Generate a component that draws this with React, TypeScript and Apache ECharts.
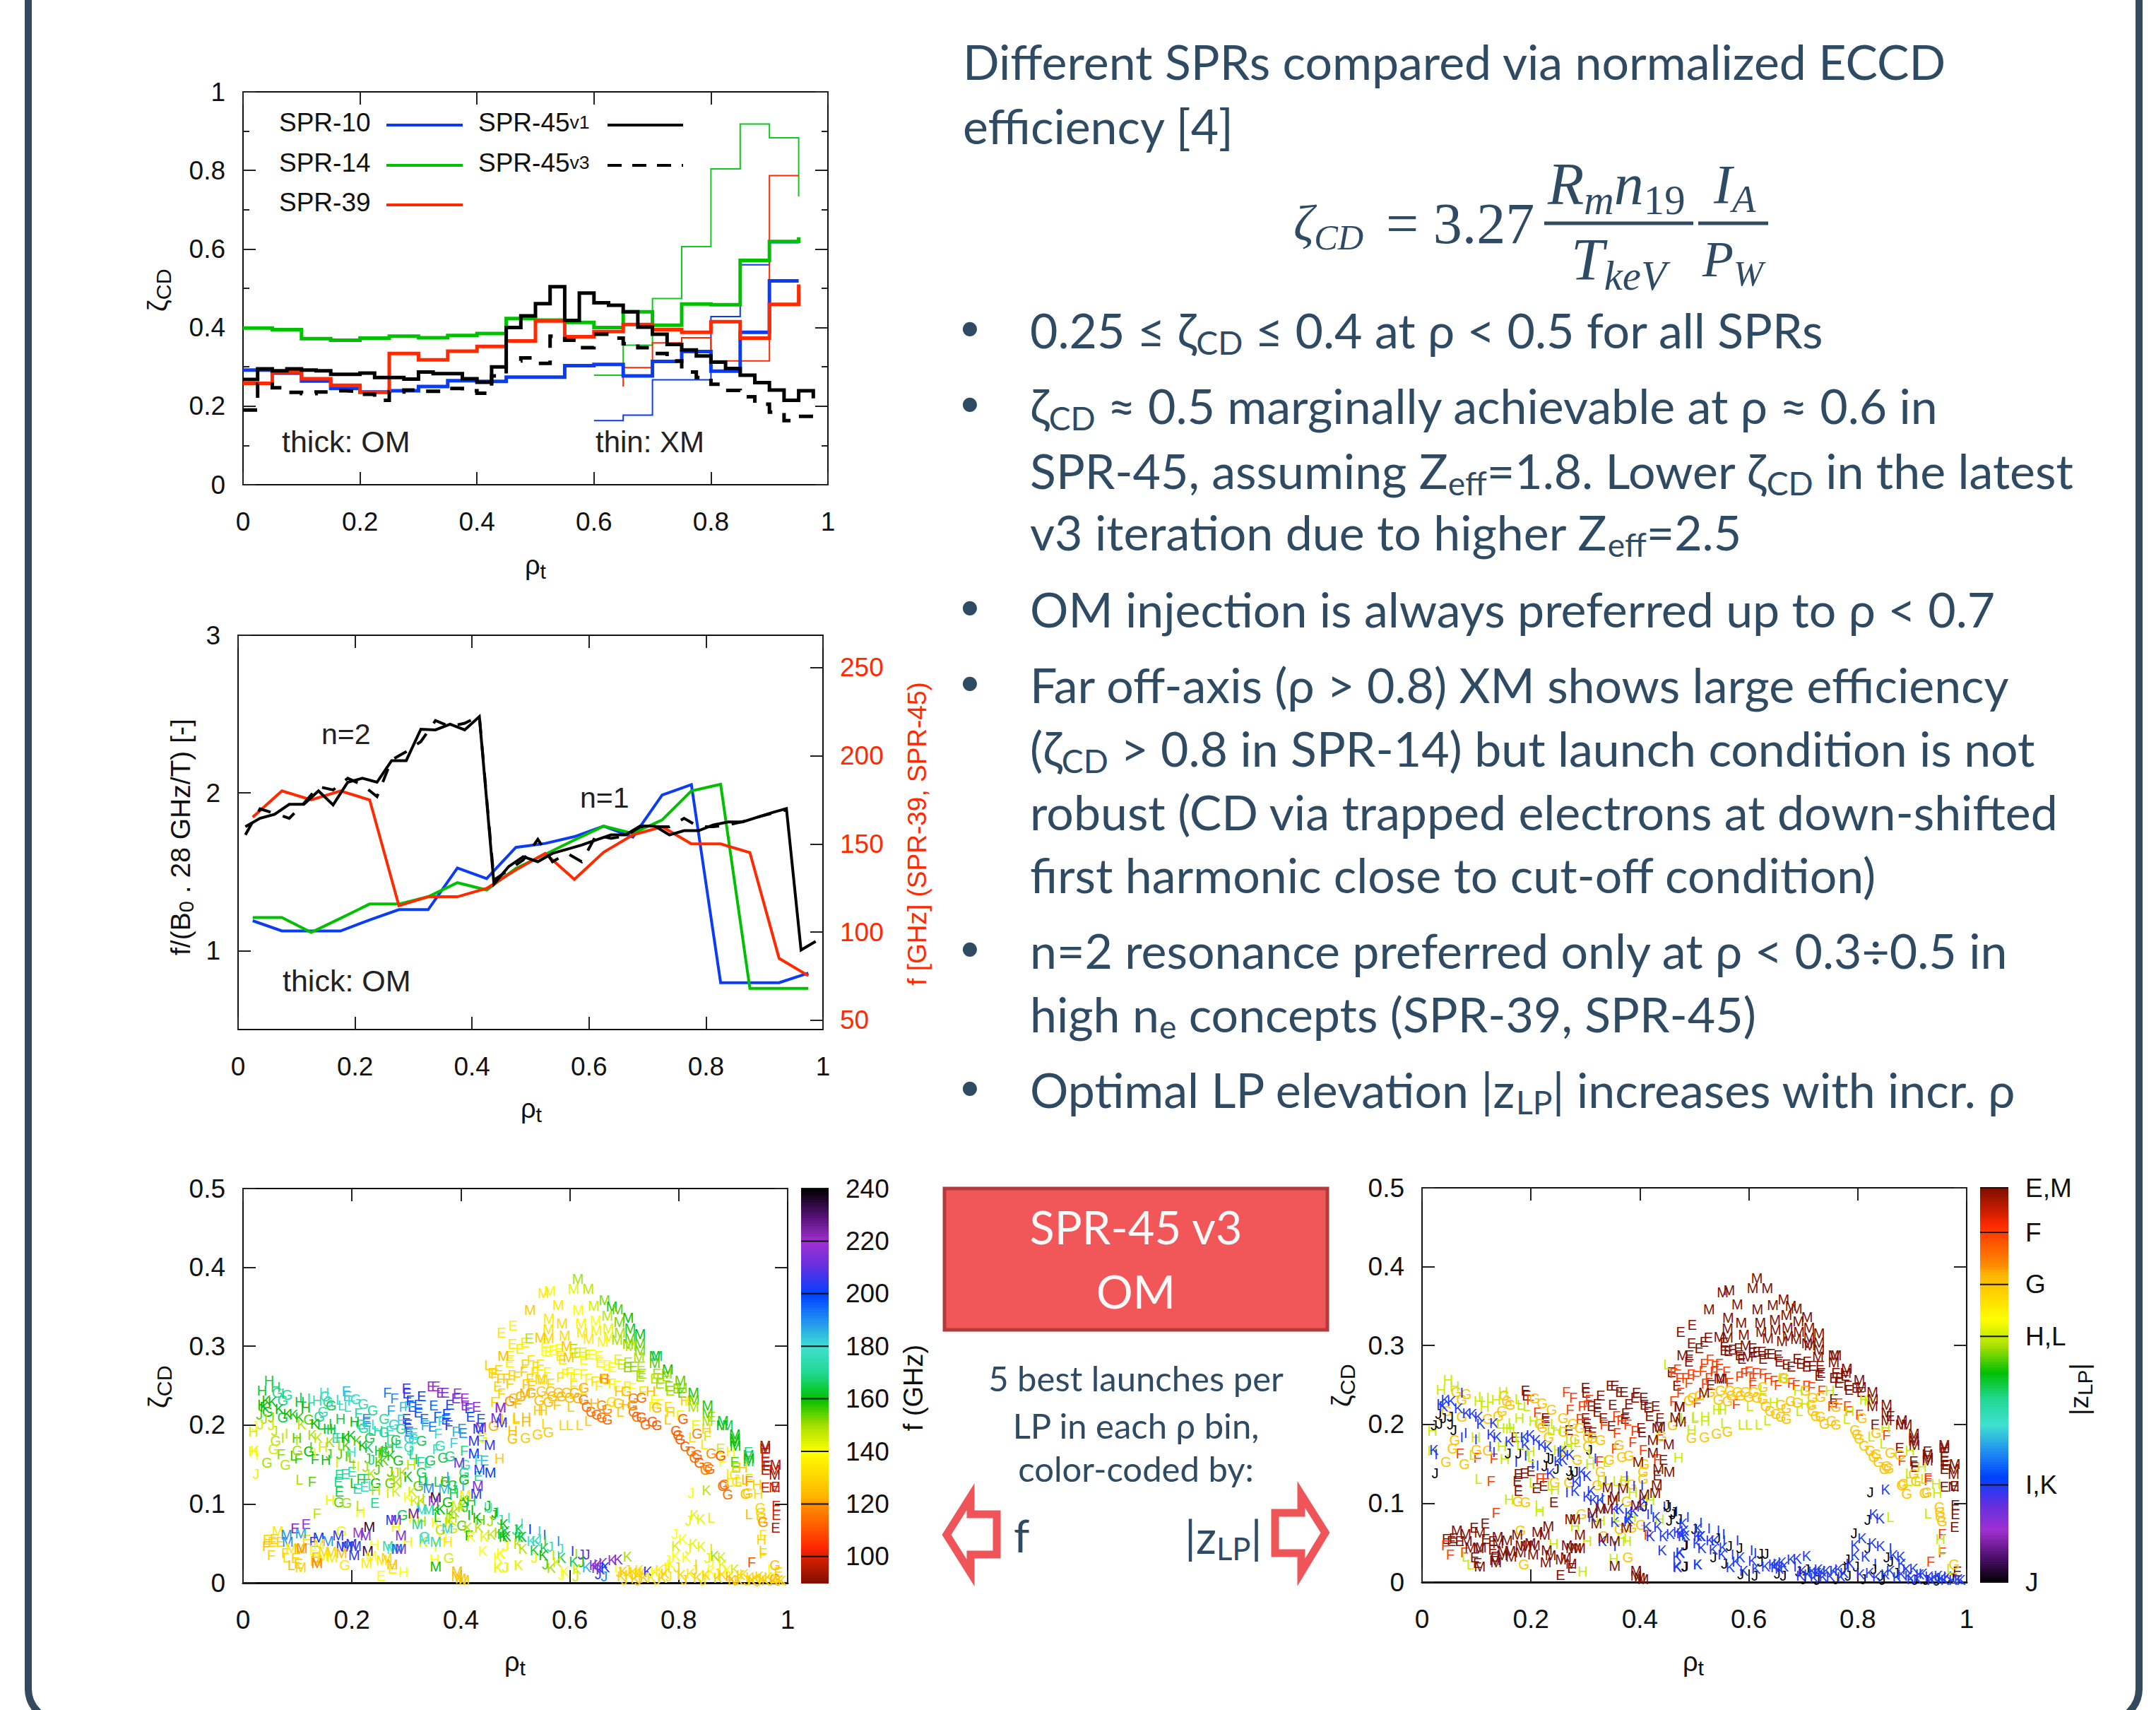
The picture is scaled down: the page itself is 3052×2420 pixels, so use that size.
import React, { useEffect, useRef } from "react";
import * as echarts from "echarts";

// ---------- panel 1: normalised efficiency, step lines ----------
const om10 = [0.292,0.284,0.264,0.245,0.236,0.239,0.25,0.265,0.263,0.274,0.274,0.303,0.306,0.277,0.314,0.339,0.289,0.388,0.519];
const om14 = [0.399,0.395,0.372,0.368,0.373,0.378,0.374,0.38,0.385,0.423,0.419,0.413,0.4,0.44,0.406,0.46,0.458,0.571,0.619];
const om39 = [0.258,0.287,0.27,0.253,0.235,0.334,0.318,0.34,0.352,0.366,0.417,0.377,0.39,0.408,0.395,0.388,0.415,0.373,0.459];
const om45v1 = [0.268,0.295,0.29,0.295,0.292,0.29,0.281,0.281,0.284,0.273,0.273,0.269,0.287,0.283,0.283,0.27,0.261,0.3,0.4,0.43,0.461,0.504,0.418,0.488,0.463,0.457,0.44,0.401,0.383,0.357,0.343,0.328,0.312,0.296,0.279,0.26,0.241,0.215,0.239];
const om45v3 = [0.19,0.256,0.247,0.235,0.232,0.236,0.239,0.238,0.23,0.215,0.236,0.241,0.238,0.238,0.245,0.239,0.233,0.277,0.315,0.323,0.309,0.378,0.368,0.349,0.383,0.373,0.359,0.349,0.334,0.315,0.287,0.273,0.256,0.24,0.224,0.205,0.185,0.163,0.174];
const xm10: number[][] = [[0.6,0.163],[0.65,0.177],[0.7,0.267],[0.75,0.267],[0.8,0.428],[0.85,0.56],[0.9,0.616],[0.95,0.616]];
const xm14: number[][] = [[0.6,0.279],[0.65,0.355],[0.7,0.474],[0.75,0.606],[0.8,0.804],[0.85,0.918],[0.9,0.883],[0.95,0.883],[0.95,0.734]];
const xm39: number[][] = [[0.65,0.25],[0.65,0.298],[0.7,0.361],[0.75,0.374],[0.8,0.315],[0.85,0.315],[0.9,0.787],[0.95,0.787]];
const om14Tail = 0.63;
const om39Tail = 0.51;
const om45v1Tail = 0.22;
const om45v3Tail = 0.15;

// ---------- panel 2: launch frequency ----------
const f10 = [1.19,1.125,1.125,1.125,1.195,1.26,1.26,1.524,1.457,1.655,1.68,1.723,1.79,1.72,1.987,2.053,0.797,0.797,0.797,0.858];
const f14 = [1.21,1.21,1.116,1.205,1.296,1.296,1.342,1.431,1.385,1.522,1.611,1.702,1.79,1.744,1.829,2.013,2.055,0.761,0.761,0.761];
const f39 = [1.846,2.013,1.956,2.013,1.956,1.285,1.342,1.342,1.395,1.512,1.617,1.452,1.624,1.734,1.786,1.677,1.677,1.622,0.951,0.841];
const f45v1 = [1.786,1.839,1.865,1.928,1.928,2.013,1.924,2.068,2.093,2.068,2.205,2.205,2.404,2.4,2.436,2.4,2.484,1.423,1.533,1.596,1.564,1.617,1.643,1.67,1.702,1.734,1.734,1.79,1.79,1.734,1.761,1.761,1.797,1.816,1.816,1.846,1.875,1.901,1.004,1.059];
const f45v3 = [1.734,1.899,1.871,1.839,1.934,2.04,2.019,2.093,2.051,1.977,2.209,2.262,2.326,2.459,2.421,2.442,2.488,1.448,1.512,1.575,1.706,1.564,1.617,1.564,1.734,1.712,1.727,1.786,1.786,1.786,1.839,1.786,1.786,1.797,1.818,1.846,1.871,1.892];

// ---------- panels 3 and 4: the five best launches, [rho, zeta, f GHz] per launch point ----------
const launchE: number[][] = [[0.19,0.243,185],[0.192,0.237,183],[0.227,0.208,190],[0.227,0.204,190],[0.3,0.246,205],[0.301,0.24,205],[0.328,0.237,200],[0.322,0.226,195],[0.311,0.223,197],[0.322,0.216,197],[0.35,0.225,195],[0.38,0.226,198],[0.346,0.249,220],[0.354,0.249,220],[0.363,0.241,215],[0.371,0.241,215],[0.394,0.24,220],[0.391,0.234,212],[0.407,0.234,220],[0.408,0.225,218],[0.415,0.221,210],[0.429,0.223,218],[0.418,0.211,197],[0.437,0.208,197],[0.374,0.214,200],[0.372,0.207,197],[0.333,0.208,195],[0.348,0.198,193],[0.3,0.208,203],[0.303,0.201,203],[0.305,0.192,195],[0.313,0.19,182],[0.27,0.193,178],[0.402,0.195,190],[0.404,0.19,190],[0.171,0.184,178],[0.443,0.155,185],[0.432,0.135,170],[0.458,0.266,130],[0.177,0.137,170],[0.188,0.138,172],[0.2,0.141,175],[0.175,0.128,170],[0.177,0.116,165],[0.21,0.119,175],[0.223,0.122,178],[0.242,0.101,170],[0.116,0.074,218],[0.096,0.069,222],[0.13,0.052,205],[0.054,0.052,130],[0.045,0.055,130],[0.058,0.056,130],[0.069,0.052,130],[0.117,0.055,132],[0.13,0.041,140],[0.097,0.031,130],[0.102,0.024,128],[0.134,0.032,125],[0.275,0.018,135],[0.254,0.009,140],[0.496,0.326,137],[0.475,0.317,135],[0.495,0.303,135],[0.518,0.305,135],[0.509,0.297,136],[0.526,0.31,148],[0.491,0.288,137],[0.49,0.28,137],[0.555,0.304,140],[0.555,0.294,140],[0.562,0.293,140],[0.57,0.295,140],[0.581,0.297,140],[0.583,0.288,135],[0.587,0.283,135],[0.607,0.297,150],[0.607,0.291,143],[0.615,0.292,145],[0.624,0.292,143],[0.626,0.283,140],[0.635,0.289,145],[0.641,0.289,140],[0.654,0.288,140],[0.656,0.28,138],[0.669,0.276,140],[0.678,0.273,140],[0.689,0.283,143],[0.695,0.277,145],[0.707,0.28,148],[0.706,0.273,152],[0.717,0.274,152],[0.731,0.274,148],[0.733,0.265,150],[0.729,0.262,150],[0.468,0.249,130],[0.53,0.25,128],[0.756,0.232,140],[0.76,0.265,150],[0.756,0.259,148],[0.767,0.259,150],[0.777,0.262,150],[0.765,0.253,150],[0.782,0.249,152],[0.784,0.244,150],[0.797,0.246,152],[0.806,0.241,155],[0.86,0.211,150],[0.832,0.2,142],[0.903,0.153,155],[0.905,0.146,150],[0.877,0.17,145],[0.928,0.166,170],[0.959,0.165,100],[0.959,0.159,100],[0.959,0.153,100],[0.962,0.149,100],[0.959,0.143,95],[0.959,0.121,98],[0.978,0.122,98],[0.979,0.098,100],[0.979,0.086,100],[0.978,0.07,95],[0.983,0.013,130]];
const launchF: number[][] = [[0.199,0.231,180],[0.212,0.215,172],[0.265,0.241,193],[0.278,0.234,190],[0.272,0.219,188],[0.294,0.223,184],[0.303,0.224,182],[0.307,0.231,200],[0.357,0.211,197],[0.365,0.205,180],[0.334,0.2,185],[0.378,0.2,205],[0.358,0.189,180],[0.29,0.207,182],[0.07,0.163,152],[0.102,0.158,157],[0.132,0.157,162],[0.326,0.153,170],[0.355,0.169,178],[0.406,0.168,170],[0.436,0.181,182],[0.432,0.156,180],[0.387,0.177,182],[0.391,0.192,185],[0.469,0.27,130],[0.127,0.128,155],[0.216,0.132,165],[0.227,0.132,167],[0.136,0.088,148],[0.415,0.06,160],[0.043,0.047,125],[0.078,0.038,130],[0.052,0.035,130],[0.518,0.277,130],[0.529,0.282,132],[0.538,0.274,132],[0.546,0.277,133],[0.536,0.267,133],[0.546,0.271,135],[0.516,0.268,128],[0.559,0.267,137],[0.503,0.262,130],[0.494,0.263,130],[0.484,0.259,128],[0.49,0.253,128],[0.473,0.259,128],[0.462,0.265,130],[0.527,0.259,130],[0.52,0.252,128],[0.565,0.253,132],[0.583,0.261,135],[0.592,0.265,137],[0.6,0.267,137],[0.613,0.265,138],[0.607,0.259,137],[0.607,0.25,135],[0.626,0.264,137],[0.635,0.259,138],[0.646,0.255,133],[0.654,0.25,137],[0.678,0.253,137],[0.687,0.25,140],[0.706,0.249,137],[0.715,0.247,140],[0.734,0.243,135],[0.577,0.226,127],[0.505,0.228,125],[0.475,0.24,130],[0.462,0.229,130],[0.752,0.223,137],[0.765,0.227,140],[0.781,0.223,132],[0.784,0.217,130],[0.803,0.212,142],[0.853,0.186,145],[0.929,0.132,145],[0.929,0.129,120],[0.881,0.154,140],[0.955,0.061,135],[0.955,0.038,130],[0.934,0.026,110]];
const launchG: number[][] = [[0.063,0.241,170],[0.081,0.238,172],[0.073,0.231,170],[0.045,0.217,160],[0.073,0.21,165],[0.121,0.207,155],[0.14,0.211,170],[0.147,0.217,175],[0.151,0.237,178],[0.156,0.229,172],[0.162,0.225,165],[0.207,0.233,178],[0.221,0.227,175],[0.238,0.219,172],[0.259,0.208,172],[0.277,0.201,182],[0.29,0.195,170],[0.216,0.201,175],[0.221,0.196,173],[0.259,0.191,170],[0.233,0.184,165],[0.06,0.18,148],[0.056,0.169,145],[0.1,0.168,150],[0.121,0.167,160],[0.044,0.152,150],[0.078,0.15,148],[0.259,0.166,165],[0.285,0.155,162],[0.305,0.172,178],[0.281,0.181,165],[0.328,0.18,165],[0.313,0.183,178],[0.305,0.184,183],[0.362,0.174,175],[0.344,0.155,165],[0.367,0.159,165],[0.38,0.16,168],[0.408,0.15,178],[0.406,0.14,170],[0.44,0.185,135],[0.46,0.199,122],[0.495,0.183,125],[0.244,0.126,160],[0.27,0.126,155],[0.328,0.14,165],[0.322,0.123,155],[0.372,0.128,160],[0.385,0.124,165],[0.376,0.102,160],[0.406,0.131,160],[0.406,0.102,165],[0.293,0.086,165],[0.402,0.073,155],[0.363,0.067,148],[0.385,0.069,145],[0.333,0.058,175],[0.181,0.065,142],[0.176,0.102,155],[0.19,0.101,150],[0.187,0.022,135],[0.378,0.031,145],[0.519,0.184,128],[0.541,0.188,128],[0.561,0.191,128],[0.548,0.243,127],[0.565,0.243,126],[0.579,0.241,125],[0.594,0.241,125],[0.609,0.241,122],[0.626,0.247,122],[0.529,0.241,122],[0.51,0.237,122],[0.497,0.234,125],[0.49,0.23,120],[0.663,0.259,122],[0.666,0.258,128],[0.704,0.243,125],[0.544,0.231,125],[0.568,0.237,125],[0.585,0.237,125],[0.6,0.235,125],[0.615,0.234,122],[0.626,0.232,118],[0.561,0.229,125],[0.631,0.223,115],[0.639,0.217,115],[0.65,0.213,115],[0.659,0.21,115],[0.669,0.207,115],[0.659,0.225,118],[0.669,0.22,120],[0.677,0.229,135],[0.689,0.228,127],[0.715,0.225,118],[0.717,0.234,118],[0.732,0.235,115],[0.717,0.217,115],[0.723,0.211,115],[0.732,0.21,112],[0.739,0.201,115],[0.752,0.204,112],[0.76,0.2,112],[0.76,0.222,125],[0.808,0.208,112],[0.795,0.193,112],[0.799,0.187,112],[0.803,0.182,112],[0.812,0.173,112],[0.823,0.167,115],[0.829,0.159,115],[0.834,0.162,115],[0.838,0.152,112],[0.834,0.189,118],[0.86,0.164,120],[0.877,0.161,110],[0.853,0.147,118],[0.849,0.143,118],[0.857,0.144,115],[0.881,0.123,115],[0.884,0.125,115],[0.89,0.112,115],[0.907,0.128,135],[0.903,0.137,135],[0.927,0.114,130],[0.923,0.113,125],[0.95,0.095,130],[0.951,0.089,130],[0.952,0.082,130],[0.955,0.077,120],[0.977,0.022,125],[0.977,0.005,120]];
const launchH: number[][] = [[0.048,0.256,165],[0.035,0.244,163],[0.06,0.248,167],[0.104,0.229,163],[0.115,0.222,160],[0.136,0.231,175],[0.149,0.241,180],[0.179,0.208,165],[0.019,0.192,145],[0.156,0.195,162],[0.162,0.194,165],[0.099,0.184,155],[0.179,0.184,170],[0.205,0.204,160],[0.248,0.193,172],[0.147,0.172,145],[0.019,0.167,142],[0.152,0.156,161],[0.199,0.166,180],[0.25,0.168,165],[0.268,0.172,163],[0.309,0.15,148],[0.372,0.129,155],[0.387,0.114,165],[0.419,0.104,165],[0.495,0.193,125],[0.471,0.158,128],[0.244,0.117,148],[0.16,0.105,142],[0.216,0.09,140],[0.385,0.082,148],[0.436,0.08,155],[0.281,0.071,138],[0.328,0.078,150],[0.242,0.048,140],[0.303,0.052,138],[0.367,0.056,140],[0.376,0.052,135],[0.295,0.013,140],[0.352,0.03,140],[0.663,0.259,120],[0.691,0.243,128],[0.646,0.228,125],[0.704,0.226,125],[0.749,0.243,125],[0.542,0.219,128],[0.551,0.219,128],[0.52,0.204,125],[0.52,0.21,125],[0.785,0.217,132],[0.812,0.231,128],[0.82,0.23,138],[0.851,0.195,130],[0.896,0.167,138],[0.918,0.146,128],[0.944,0.125,130],[0.946,0.113,132],[0.952,0.055,130]];
const launchI: number[][] = [[0.073,0.24,168],[0.08,0.189,147],[0.073,0.184,148],[0.099,0.181,148],[0.132,0.165,142],[0.125,0.172,155],[0.026,0.162,140],[0.173,0.152,145],[0.19,0.16,155],[0.203,0.15,148],[0.25,0.165,155],[0.318,0.157,165],[0.212,0.148,142],[0.266,0.114,145],[0.29,0.128,148],[0.337,0.128,170],[0.376,0.134,185],[0.389,0.122,165],[0.404,0.123,185],[0.331,0.107,150],[0.322,0.096,195],[0.415,0.086,160],[0.421,0.092,160],[0.445,0.096,180],[0.467,0.09,175],[0.354,0.046,140],[0.488,0.082,180],[0.512,0.075,180],[0.527,0.068,200],[0.544,0.065,182],[0.554,0.061,195],[0.555,0.053,155],[0.579,0.053,190],[0.57,0.035,148],[0.605,0.04,205],[0.612,0.037,150],[0.685,0.02,140],[0.832,0.023,130],[0.86,0.043,145],[0.782,0.02,130],[0.8,0.012,135]];
const launchJ: number[][] = [[0.03,0.213,155],[0.039,0.208,150],[0.052,0.21,152],[0.032,0.201,145],[0.022,0.199,140],[0.052,0.2,145],[0.058,0.193,148],[0.158,0.163,155],[0.177,0.163,155],[0.024,0.138,136],[0.236,0.156,170],[0.229,0.158,165],[0.225,0.147,150],[0.246,0.143,155],[0.27,0.141,155],[0.281,0.14,150],[0.307,0.168,178],[0.272,0.135,148],[0.408,0.096,165],[0.449,0.098,160],[0.452,0.095,180],[0.46,0.086,165],[0.454,0.078,150],[0.482,0.047,140],[0.482,0.02,145],[0.483,0.02,140],[0.462,0.089,160],[0.472,0.08,175],[0.5,0.067,172],[0.483,0.047,140],[0.542,0.056,180],[0.564,0.046,175],[0.583,0.043,180],[0.535,0.031,142],[0.555,0.023,155],[0.621,0.036,210],[0.631,0.036,210],[0.621,0.026,160],[0.652,0.011,205],[0.663,0.008,190],[0.585,0.01,140],[0.611,0.008,145],[0.691,0.013,130],[0.706,0.016,130],[0.773,0.017,135],[0.782,0.008,135],[0.78,0.029,140],[0.797,0.02,130],[0.793,0.062,140],[0.818,0.043,143],[0.829,0.016,130],[0.842,0.008,140],[0.853,0.031,143],[0.86,0.026,140],[0.818,0.079,143],[0.823,0.114,140],[0.972,0.005,135],[0.7,0.004,130],[0.725,0.003,130],[0.76,0.004,132],[0.81,0.004,130],[0.845,0.003,135],[0.87,0.012,132],[0.905,0.003,128],[0.925,0.003,130],[0.945,0.002,128]];
const launchK: number[][] = [[0.035,0.226,160],[0.043,0.231,160],[0.054,0.229,160],[0.067,0.22,160],[0.039,0.223,160],[0.082,0.214,160],[0.093,0.213,158],[0.104,0.21,158],[0.108,0.201,148],[0.132,0.202,160],[0.127,0.187,150],[0.138,0.184,147],[0.16,0.178,150],[0.188,0.184,160],[0.199,0.186,160],[0.21,0.18,155],[0.19,0.174,155],[0.22,0.174,160],[0.231,0.171,165],[0.022,0.168,138],[0.259,0.167,155],[0.272,0.161,158],[0.25,0.153,155],[0.259,0.155,155],[0.236,0.138,148],[0.303,0.134,160],[0.294,0.14,150],[0.283,0.127,150],[0.281,0.116,145],[0.311,0.116,145],[0.303,0.108,140],[0.328,0.104,148],[0.315,0.104,145],[0.354,0.092,162],[0.363,0.093,160],[0.38,0.088,155],[0.389,0.09,150],[0.402,0.096,150],[0.406,0.105,160],[0.312,0.082,138],[0.378,0.077,150],[0.38,0.081,145],[0.413,0.07,148],[0.43,0.082,160],[0.433,0.07,148],[0.354,0.076,138],[0.331,0.052,145],[0.419,0.058,140],[0.443,0.058,143],[0.456,0.061,148],[0.441,0.04,140],[0.468,0.032,140],[0.474,0.037,140],[0.469,0.019,140],[0.469,0.064,150],[0.478,0.058,160],[0.482,0.065,165],[0.506,0.058,160],[0.512,0.058,165],[0.506,0.022,145],[0.479,0.074,160],[0.475,0.062,165],[0.484,0.059,160],[0.507,0.068,165],[0.513,0.058,165],[0.529,0.053,180],[0.538,0.053,175],[0.535,0.041,165],[0.553,0.044,165],[0.551,0.035,160],[0.585,0.031,165],[0.607,0.027,165],[0.631,0.02,185],[0.644,0.022,215],[0.652,0.023,220],[0.661,0.025,215],[0.656,0.017,210],[0.648,0.019,215],[0.665,0.02,200],[0.678,0.029,218],[0.689,0.03,215],[0.706,0.033,150],[0.468,0.02,142],[0.506,0.022,142],[0.474,0.038,140],[0.514,0.043,148],[0.505,0.049,148],[0.566,0.019,150],[0.577,0.026,145],[0.591,0.014,140],[0.613,0.017,145],[0.698,0.014,130],[0.717,0.013,130],[0.726,0.012,130],[0.734,0.013,130],[0.743,0.014,205],[0.756,0.014,140],[0.765,0.016,135],[0.786,0.023,140],[0.795,0.034,140],[0.808,0.056,140],[0.795,0.047,145],[0.827,0.049,143],[0.842,0.046,143],[0.814,0.032,140],[0.866,0.034,150],[0.879,0.032,145],[0.881,0.023,143],[0.86,0.014,140],[0.881,0.01,130],[0.894,0.008,125],[0.903,0.017,145],[0.914,0.01,130],[0.931,0.007,130],[0.942,0.005,130],[0.955,0.005,132],[0.829,0.086,143],[0.841,0.081,143],[0.851,0.117,148],[0.695,0.008,130],[0.709,0.01,130],[0.72,0.005,128],[0.728,0.016,132],[0.737,0.006,128],[0.75,0.007,135],[0.77,0.006,130],[0.775,0.012,130],[0.805,0.01,132],[0.822,0.012,135],[0.835,0.006,130],[0.85,0.01,130],[0.872,0.006,130],[0.89,0.016,140],[0.898,0.004,125],[0.91,0.004,130],[0.92,0.011,132],[0.935,0.003,128],[0.948,0.008,130],[0.96,0.003,128],[0.965,0.007,130],[0.975,0.003,125],[0.985,0.004,130],[0.99,0.003,130]];
const launchL: number[][] = [[0.11,0.235,165],[0.125,0.234,172],[0.177,0.232,178],[0.181,0.225,178],[0.192,0.223,178],[0.143,0.201,162],[0.164,0.202,165],[0.242,0.201,180],[0.236,0.193,170],[0.18,0.175,150],[0.285,0.177,170],[0.27,0.18,173],[0.093,0.161,157],[0.2,0.159,155],[0.311,0.163,170],[0.339,0.152,172],[0.48,0.208,130],[0.501,0.208,130],[0.45,0.276,130],[0.104,0.131,150],[0.203,0.126,158],[0.236,0.123,180],[0.328,0.13,165],[0.339,0.13,162],[0.357,0.128,165],[0.357,0.083,162],[0.214,0.098,148],[0.08,0.032,132],[0.089,0.022,125],[0.626,0.245,132],[0.602,0.223,128],[0.693,0.217,128],[0.555,0.202,130],[0.587,0.2,130],[0.6,0.2,130],[0.618,0.2,130],[0.634,0.205,128],[0.502,0.21,128],[0.78,0.207,128],[0.825,0.185,132],[0.847,0.176,135],[0.894,0.128,130],[0.91,0.128,130],[0.922,0.131,125],[0.894,0.138,135],[0.86,0.082,135],[0.929,0.087,125],[0.954,0.041,130],[0.97,0.017,140]];
const launchM: number[][] = [[0.424,0.18,205],[0.424,0.164,200],[0.453,0.175,205],[0.397,0.152,212],[0.434,0.143,203],[0.454,0.14,200],[0.465,0.209,212],[0.475,0.203,205],[0.473,0.222,218],[0.437,0.197,222],[0.432,0.195,200],[0.341,0.12,190],[0.354,0.108,235],[0.35,0.104,220],[0.369,0.119,185],[0.431,0.123,215],[0.428,0.113,205],[0.408,0.111,135],[0.393,0.098,145],[0.328,0.093,180],[0.341,0.093,175],[0.313,0.088,225],[0.272,0.08,205],[0.281,0.08,215],[0.32,0.074,170],[0.375,0.069,182],[0.232,0.071,235],[0.212,0.064,220],[0.225,0.06,215],[0.175,0.06,205],[0.064,0.065,135],[0.08,0.061,190],[0.106,0.063,188],[0.139,0.057,200],[0.156,0.053,190],[0.082,0.052,190],[0.089,0.044,135],[0.104,0.043,125],[0.108,0.044,120],[0.14,0.049,135],[0.149,0.039,130],[0.162,0.039,130],[0.181,0.047,205],[0.19,0.046,205],[0.199,0.049,205],[0.207,0.047,205],[0.181,0.038,125],[0.204,0.035,205],[0.229,0.04,235],[0.236,0.034,140],[0.266,0.047,175],[0.274,0.043,180],[0.283,0.043,195],[0.29,0.043,215],[0.333,0.056,180],[0.354,0.052,175],[0.29,0.06,215],[0.106,0.02,130],[0.134,0.028,125],[0.136,0.025,118],[0.147,0.034,135],[0.164,0.032,135],[0.227,0.025,135],[0.255,0.029,135],[0.264,0.031,130],[0.274,0.023,125],[0.354,0.021,160],[0.393,0.014,125],[0.393,0.008,125],[0.4,0.005,128],[0.406,0.004,128],[0.615,0.385,150],[0.564,0.37,138],[0.552,0.367,135],[0.607,0.373,143],[0.634,0.373,148],[0.664,0.358,152],[0.677,0.35,158],[0.688,0.347,155],[0.707,0.336,160],[0.527,0.346,128],[0.579,0.352,135],[0.616,0.346,140],[0.644,0.351,145],[0.669,0.339,148],[0.691,0.331,153],[0.711,0.323,158],[0.729,0.315,160],[0.562,0.335,135],[0.586,0.329,132],[0.621,0.329,137],[0.648,0.332,140],[0.671,0.323,143],[0.692,0.317,150],[0.711,0.31,155],[0.729,0.304,155],[0.561,0.322,133],[0.591,0.314,132],[0.623,0.317,135],[0.649,0.32,137],[0.672,0.312,143],[0.687,0.308,150],[0.707,0.303,153],[0.712,0.3,148],[0.729,0.295,153],[0.727,0.286,150],[0.635,0.309,135],[0.661,0.306,138],[0.561,0.31,130],[0.546,0.311,127],[0.594,0.3,127],[0.598,0.286,127],[0.478,0.288,125],[0.518,0.24,122],[0.546,0.258,130],[0.55,0.258,132],[0.473,0.222,220],[0.756,0.288,163],[0.76,0.288,165],[0.756,0.279,155],[0.78,0.271,160],[0.778,0.265,152],[0.803,0.256,155],[0.806,0.247,152],[0.827,0.241,158],[0.828,0.232,155],[0.827,0.223,150],[0.853,0.225,158],[0.853,0.215,155],[0.853,0.205,150],[0.881,0.205,163],[0.879,0.2,160],[0.89,0.2,165],[0.903,0.183,160],[0.903,0.188,160],[0.903,0.179,160],[0.904,0.174,160],[0.928,0.162,165],[0.929,0.158,160],[0.928,0.154,165],[0.959,0.174,95],[0.959,0.17,95],[0.978,0.15,95],[0.976,0.143,98],[0.976,0.137,92],[0.976,0.121,100]];

const launchGroups: [string, number[][]][] = [["E", launchE], ["F", launchF], ["G", launchG], ["H", launchH], ["I", launchI], ["J", launchJ], ["K", launchK], ["L", launchL], ["M", launchM]];

// colour palette stops: [fraction of the colour bar, colour]
const paletteStops: [number, string][] = [[0,"#7f0f00"],[0.067,"#d82000"],[0.093,"#ff2a00"],[0.2,"#ff9000"],[0.213,"#ffb000"],[0.333,"#ffff00"],[0.4,"#a8e000"],[0.467,"#00c000"],[0.533,"#20d890"],[0.6,"#40e0d0"],[0.667,"#2090f0"],[0.733,"#0040ff"],[0.8,"#6030e0"],[0.867,"#a030d0"],[0.933,"#501070"],[1,"#000000"]];
const freqTicks = [100,120,140,160,180,200,220,240];
const freqMin = 90;
const freqMax = 240;
const zlpTicks = [0,0.2465,0.623,0.755,0.887,1];
const zlpTickLabels = ["J","I,K","H,L","G","F","E,M"];
const zlpOfLetter: Record<string, number> = { E:1, M:1, F:0.887, G:0.755, H:0.623, L:0.623, I:0.2465, K:0.2465, J:0 };

const PLOT_FONT = "Liberation Sans";
const TEXT_FONT = "Lato, 'Noto Sans', sans-serif";
const MATH_FONT = "'Liberation Serif', serif";
const SLATE = "#2f4a63";
const TICK_SIZE = 37;
const BODY_SIZE = 68;

function hexRgb(h: string) { return [1,3,5].map((i) => parseInt(h.slice(i, i + 2), 16)); }
function palette(t: number) {
  for (let i = 1; i < paletteStops.length; i++) {
    const [t1, c1] = paletteStops[i];
    const [t0, c0] = paletteStops[i - 1];
    if (t <= t1) {
      const k = (t - t0) / (t1 - t0);
      const a = hexRgb(c0), b = hexRgb(c1);
      return `rgb(${a.map((v, j) => Math.round(v + (b[j] - v) * k)).join(",")})`;
    }
  }
  return "#000000";
}

let ctx2d: CanvasRenderingContext2D | null = null;
function measure(text: string, font: string) {
  if (!ctx2d) ctx2d = document.createElement("canvas").getContext("2d");
  ctx2d!.font = font;
  return ctx2d!.measureText(text).width;
}
type Part = { t: string; sub?: boolean; small?: boolean; italic?: boolean };
function runs(x: number, y: number, parts: Part[], o: { size: number; color: string; family: string; rotate?: number; subScale?: number; subDrop?: number }) {
  const rot = o.rotate || 0;
  const cos = Math.cos(rot), sin = Math.sin(rot);
  let adv = 0;
  const out: any[] = [];
  for (const p of parts) {
    const scale = p.sub || p.small ? (o.subScale ?? 0.68) : 1;
    const size = o.size * scale;
    const font = `${p.italic ? "italic " : ""}${size}px ${o.family}`;
    const lead = p.t.length - p.t.trimStart().length;
    const leadW = lead ? measure(p.t.slice(0, lead), font) : 0;
    const drop = p.sub ? o.size * (o.subDrop ?? 0.3) : 0;
    const a = adv + leadW;
    out.push({
      type: "text", silent: true,
      x: x + a * cos + drop * sin,
      y: y - a * sin + drop * cos,
      rotation: rot,
      style: { text: p.t.trimStart(), x: 0, y: 0, font, fill: o.color, textAlign: "left", textVerticalAlign: "middle" },
    });
    adv += measure(p.t, font);
  }
  return out;
}
function label(x: number, y: number, text: string, o: { size?: number; color?: string; family?: string; align?: string; rotate?: number; italic?: boolean }) {
  return {
    type: "text", silent: true, x, y, rotation: o.rotate || 0,
    style: { text, x: 0, y: 0, font: `${o.italic ? "italic " : ""}${o.size ?? TICK_SIZE}px ${o.family ?? PLOT_FONT}`, fill: o.color ?? "#111", textAlign: o.align ?? "left", textVerticalAlign: "middle" },
  };
}

const BLUE = "#0a3cf5", GREEN = "#00c000", RED = "#ff2a00", BLACK = "#000000";

function stepped(values: number[], bin: number, tail?: number) {
  const pts = values.map((v, i) => [+(i * bin).toFixed(4), v]);
  const end = +(values.length * bin).toFixed(4);
  pts.push([end, values[values.length - 1]]);
  if (tail !== undefined) pts.push([end, tail]);
  return pts;
}
function centred(values: number[], bin: number) {
  return values.map((v, i) => [+((i + 0.5) * bin).toFixed(4), v]);
}

function buildOption() {
  const grids: any[] = [], xAxes: any[] = [], yAxes: any[] = [], series: any[] = [];
  const axisLine = { show: true, onZero: false, lineStyle: { color: "#111", width: 2 } };

  function frame(box: { left: number; top: number; width: number; height: number }, y: any, opt: { yRight?: any; tick?: number; minor?: boolean; bottomWidth?: number } = {}) {
    const g = grids.length;
    grids.push({ ...box, containLabel: false, show: false });
    const tick = { show: true, inside: true, length: opt.tick ?? 18, lineStyle: { color: "#222", width: 2 } };
    const minor = opt.minor ? { show: true, splitNumber: 2, length: 9, lineStyle: { color: "#222", width: 2 } } : { show: false };
    const labelStyle = { fontFamily: PLOT_FONT, fontSize: TICK_SIZE, color: "#111" };
    const ix = xAxes.length, iy = yAxes.length;
    const { tickCustom, ...yScale } = y;
    const bottomLine = { show: true, onZero: false, lineStyle: { color: "#111", width: opt.bottomWidth ?? 2 } };
    xAxes.push({ gridIndex: g, type: "value", position: "bottom", min: 0, max: 1, interval: 0.2, axisLine: bottomLine, axisTick: tick, splitLine: { show: false }, axisLabel: { ...labelStyle, margin: 34 } });
    xAxes.push({ gridIndex: g, type: "value", position: "top", min: 0, max: 1, interval: 0.2, axisLine, axisTick: tick, splitLine: { show: false }, axisLabel: { show: false } });
    yAxes.push({ gridIndex: g, type: "value", position: "left", ...yScale, axisLine, axisTick: { ...tick, ...(tickCustom ? { customValues: tickCustom } : {}) }, minorTick: minor, splitLine: { show: false }, axisLabel: { ...labelStyle, margin: 25, ...(tickCustom ? { customValues: tickCustom } : {}) } });
    yAxes.push(opt.yRight ? { gridIndex: g, ...opt.yRight } : { gridIndex: g, type: "value", position: "right", ...yScale, axisLine, axisTick: { ...tick, ...(tickCustom ? { customValues: tickCustom } : {}) }, minorTick: minor, splitLine: { show: false }, axisLabel: { show: false } });
    return { g, ix, iy };
  }
  function line(f: { ix: number; iy: number }, data: number[][], color: string, width: number, step: boolean, name: string, dashed = false) {
    series.push({
      type: "line", name, xAxisIndex: f.ix, yAxisIndex: f.iy, data, showSymbol: false, symbol: "none", silent: true,
      step: step ? "end" : false, clip: false,
      lineStyle: { color, width, type: dashed ? [20, 18] : "solid", cap: "butt", join: "miter" },
    });
  }

  // panel 1
  const p1 = frame({ left: 344, top: 130, width: 828, height: 556 }, { min: 0, max: 1, interval: 0.2 }, { minor: true });
  line(p1, xm10, BLUE, 2, true, "SPR-10 XM");
  line(p1, xm14, "#10c820", 2, true, "SPR-14 XM");
  line(p1, xm39, RED, 2, true, "SPR-39 XM");
  line(p1, stepped(om10, 0.05), BLUE, 5, true, "SPR-10");
  line(p1, stepped(om14, 0.05, om14Tail), GREEN, 5, true, "SPR-14");
  line(p1, stepped(om39, 0.05, om39Tail), RED, 5, true, "SPR-39");
  line(p1, stepped(om45v1, 0.025, om45v1Tail), BLACK, 5, true, "SPR-45v1");
  line(p1, stepped(om45v3, 0.025, om45v3Tail), BLACK, 5, true, "SPR-45v3", true);

  // panel 2
  const rightAxis2 = {
    type: "value", position: "right", min: 44.7, max: 268.4,
    axisLine, axisTick: { show: true, inside: true, length: 18, lineStyle: { color: "#222", width: 2 }, customValues: [50,100,150,200,250] },
    splitLine: { show: false },
    axisLabel: { fontFamily: PLOT_FONT, fontSize: TICK_SIZE, color: RED, margin: 24, customValues: [50,100,150,200,250] },
  };
  const p2 = frame({ left: 337, top: 899, width: 828, height: 558 }, { min: 0.5, max: 3, tickCustom: [1,2,3] }, { yRight: rightAxis2 });
  line(p2, centred(f10, 0.05), BLUE, 4, false, "SPR-10");
  line(p2, centred(f14, 0.05), GREEN, 4, false, "SPR-14");
  line(p2, centred(f39, 0.05), RED, 4, false, "SPR-39");
  line(p2, centred(f45v3, 0.025), BLACK, 4, false, "SPR-45v3", true);
  line(p2, centred(f45v1, 0.025), BLACK, 4, false, "SPR-45v1");

  // launch points
  const all: { letter: string; rho: number; zeta: number; f: number }[] = [];
  launchGroups.forEach(([letter, pts]) => pts.forEach(([rho, zeta, f]) => all.push({ letter, rho, zeta, f })));

  function scatter(f: { ix: number; iy: number }, colorOf: (p: { letter: string; f: number }) => string, name: string) {
    series.push({
      type: "custom", name, xAxisIndex: f.ix, yAxisIndex: f.iy, silent: true, clip: false,
      data: all.map((p) => [p.rho, p.zeta]),
      renderItem: (params: any, api: any) => {
        const p = all[params.dataIndex];
        const c = api.coord([api.value(0), api.value(1)]);
        return { type: "text", silent: true, x: c[0], y: c[1], style: { text: p.letter, x: 0, y: 0, font: `20px ${PLOT_FONT}`, fill: colorOf(p), textAlign: "center", textVerticalAlign: "middle" } };
      },
    });
  }
  const p3 = frame({ left: 344, top: 1682, width: 771, height: 558 }, { min: 0, max: 0.5, interval: 0.1 }, { bottomWidth: 3 });
  scatter(p3, (p) => palette((p.f - freqMin) / (freqMax - freqMin)), "launches by f");
  const p4 = frame({ left: 2013, top: 1681, width: 771, height: 558 }, { min: 0, max: 0.5, interval: 0.1 }, { bottomWidth: 3 });
  scatter(p4, (p) => palette(1 - zlpOfLetter[p.letter]), "launches by zLP");

  // colour bars
  function colorbar(box: any, min: number, max: number, ticks: number[], fmt: ((v: number) => string) | null, reversed: boolean, name: string) {
    const g = grids.length;
    grids.push({ ...box, containLabel: false, show: false });
    const ix = xAxes.length, iy = yAxes.length;
    xAxes.push({ gridIndex: g, type: "value", min: 0, max: 1, show: false });
    yAxes.push({
      gridIndex: g, type: "value", position: "right", min, max,
      axisLine: { show: false },
      axisTick: { show: false },
      splitLine: { show: false },
      axisLabel: { fontFamily: PLOT_FONT, fontSize: TICK_SIZE, color: "#111", margin: 24, customValues: ticks, formatter: fmt ?? undefined },
    });
    const cells: number[][] = [];
    for (let i = 0; i < 150; i++) cells.push([(i + 0.5) / 150]);
    series.push({
      type: "custom", name, xAxisIndex: ix, yAxisIndex: iy, silent: true, clip: false, z: 2,
      data: cells.map(([t]) => [0, min + t * (max - min), t]),
      renderItem: (_p: any, api: any) => {
        const t = api.value(2);
        const a = api.coord([0, min + (t - 0.5 / 150) * (max - min)]);
        const b = api.coord([1, min + (t + 0.5 / 150) * (max - min)]);
        return { type: "rect", shape: { x: a[0], y: b[1], width: b[0] - a[0], height: a[1] - b[1] + 1 }, style: { fill: palette(reversed ? 1 - t : t) } };
      },
    });
    series.push({
      type: "custom", name: name + " ticks", xAxisIndex: ix, yAxisIndex: iy, silent: true, clip: false, z: 3,
      data: ticks.map((v) => [0, v]),
      renderItem: (_p: any, api: any) => {
        const a = api.coord([0, api.value(1)]);
        const b = api.coord([1, api.value(1)]);
        return { type: "line", shape: { x1: a[0], y1: a[1], x2: b[0], y2: b[1] }, style: { stroke: "#111", lineWidth: 2 } };
      },
    });
  }
  colorbar({ left: 1134, top: 1682, width: 39, height: 558 }, freqMin, freqMax, freqTicks, null, false, "f colour bar");
  colorbar({ left: 2803, top: 1681, width: 40, height: 558 }, 0, 1, zlpTicks, (v: number) => {
    const i = zlpTicks.findIndex((t) => Math.abs(t - v) < 1e-6);
    return i >= 0 ? zlpTickLabels[i] : "";
  }, true, "zLP colour bar");

  // graphic
  const plotSub = { color: "#111", family: PLOT_FONT, subScale: 0.8, subDrop: 0.22 };
  const zeta = (x: number, y: number) => runs(x, y, [{ t: "ζ" }, { t: "CD", sub: true }], { size: 38, rotate: Math.PI / 2, ...plotSub });
  const rhot = (x: number, y: number) => runs(x, y, [{ t: "ρ" }, { t: "t", sub: true }], { size: 38, ...plotSub });
  const gfx: any[] = [
    { type: "rect", silent: true, shape: { x: 40, y: -100, width: 2988, height: 2535, r: 45 }, style: { fill: "#ffffff", stroke: "#34495e", lineWidth: 10 } },
    // panel 1 texts
    ...zeta(223, 441), ...rhot(743, 800),
    label(395, 173, "SPR-10", {}), label(395, 230, "SPR-14", {}), label(395, 286, "SPR-39", {}),
    ...runs(677, 173, [{ t: "SPR-45" }, { t: "v1", small: true }], { size: TICK_SIZE, color: "#111", family: PLOT_FONT, subScale: 0.72 }),
    ...runs(677, 230, [{ t: "SPR-45" }, { t: "v3", small: true }], { size: TICK_SIZE, color: "#111", family: PLOT_FONT, subScale: 0.72 }),
    { type: "line", silent: true, shape: { x1: 547, y1: 177, x2: 655, y2: 177 }, style: { stroke: BLUE, lineWidth: 4 } },
    { type: "line", silent: true, shape: { x1: 547, y1: 234, x2: 655, y2: 234 }, style: { stroke: GREEN, lineWidth: 4 } },
    { type: "line", silent: true, shape: { x1: 547, y1: 290, x2: 655, y2: 290 }, style: { stroke: RED, lineWidth: 4 } },
    { type: "line", silent: true, shape: { x1: 860, y1: 177, x2: 967, y2: 177 }, style: { stroke: BLACK, lineWidth: 4 } },
    { type: "line", silent: true, shape: { x1: 860, y1: 234, x2: 967, y2: 234 }, style: { stroke: BLACK, lineWidth: 4, lineDash: [20, 15] } },
    label(399, 625, "thick: OM", { color: "#222", size: 43 }), label(843, 625, "thin: XM", { color: "#222", size: 42 }),
    // panel 2 texts
    ...runs(255, 1352, [{ t: "f/(B" }, { t: "0", sub: true }, { t: " . 28 GHz/T) [-]" }], { size: 39, rotate: Math.PI / 2, color: "#111", family: PLOT_FONT, subScale: 0.75, subDrop: 0.22 }),
    label(1298, 1180, "f [GHz] (SPR-39, SPR-45)", { color: RED, align: "center", rotate: Math.PI / 2, size: 37 }),
    ...rhot(737, 1569),
    label(455, 1039, "n=2", { color: "#222", size: 41 }), label(821, 1129, "n=1", { color: "#222", size: 41 }),
    label(400, 1388, "thick: OM", { color: "#222", size: 43 }),
    // panel 3/4 texts
    ...zeta(224, 1993), ...rhot(714, 2352),
    label(1293, 1964, "f (GHz)", { align: "center", rotate: Math.PI / 2, size: 38 }),
    ...zeta(1899, 1991), ...rhot(2382, 2352),
    ...runs(2943, 2003, [{ t: "|z" }, { t: "LP", sub: true }, { t: "|" }], { size: 37, rotate: Math.PI / 2, ...plotSub }),
    // centre box
    { type: "rect", silent: true, shape: { x: 1337, y: 1682, width: 542, height: 200 }, style: { fill: "#f15658", stroke: "#b53a3c", lineWidth: 5 } },
    label(1608, 1736, "SPR-45 v3", { family: TEXT_FONT, size: 65, color: "#f8f8f8", align: "center" }),
    label(1608, 1827, "OM", { family: TEXT_FONT, size: 65, color: "#f8f8f8", align: "center" }),
    label(1608, 1950, "5 best launches per", { family: TEXT_FONT, size: 49, color: SLATE, align: "center" }),
    label(1608, 2017, "LP in each ρ bin,", { family: TEXT_FONT, size: 49, color: SLATE, align: "center" }),
    label(1608, 2078, "color-coded by:", { family: TEXT_FONT, size: 49, color: SLATE, align: "center" }),
    { type: "polygon", silent: true, shape: { points: [[1340,2172],[1374,2118],[1374,2143],[1411,2143],[1411,2200],[1374,2200],[1374,2226]] }, style: { fill: "#fff", stroke: "#ef5558", lineWidth: 11 } },
    { type: "polygon", silent: true, shape: { points: [[1876,2169],[1842,2115],[1842,2141],[1805,2141],[1805,2198],[1842,2198],[1842,2225]] }, style: { fill: "#fff", stroke: "#ef5558", lineWidth: 11 } },
    label(1435, 2172, "f", { family: TEXT_FONT, size: 64, color: SLATE }),
    ...runs(1677, 2174, [{ t: "|z" }, { t: "LP", sub: true }, { t: "|" }], { size: 64, color: SLATE, family: TEXT_FONT, subDrop: 0.26 }),
    // title and formula
    label(1363, 86, "Different SPRs compared via normalized ECCD", { family: TEXT_FONT, size: BODY_SIZE, color: SLATE }),
    label(1363, 177, "efficiency [4]", { family: TEXT_FONT, size: BODY_SIZE, color: SLATE }),
  ];
  const mathOpts = { color: SLATE, family: MATH_FONT, subScale: 0.7, subDrop: 0.28 };
  gfx.push(
    ...runs(1831, 316, [{ t: "ζ", italic: true }, { t: "CD", sub: true, italic: true }], { size: 72, ...mathOpts }),
    label(1962, 316, "= 3.27", { family: MATH_FONT, size: 82, color: SLATE }),
    ...runs(2191, 260, [{ t: "R", italic: true }, { t: "m", sub: true, italic: true }, { t: "n", italic: true }, { t: "19", sub: true }], { size: 84, ...mathOpts }),
    ...runs(2426, 260, [{ t: "I", italic: true }, { t: "A", sub: true, italic: true }], { size: 78, ...mathOpts }),
    ...runs(2224, 367, [{ t: "T", italic: true }, { t: "keV", sub: true, italic: true }], { size: 84, ...mathOpts }),
    ...runs(2410, 367, [{ t: "P", italic: true }, { t: "W", sub: true, italic: true }], { size: 72, ...mathOpts }),
    { type: "line", silent: true, shape: { x1: 2186, y1: 316, x2: 2397, y2: 316 }, style: { stroke: SLATE, lineWidth: 5 } },
    { type: "line", silent: true, shape: { x1: 2404, y1: 316, x2: 2503, y2: 316 }, style: { stroke: SLATE, lineWidth: 5 } },
  );
  const CD: Part = { t: "CD", sub: true };
  const bulletLines: [number, boolean, Part[]][] = [
    [466, true, [{ t: "0.25 ≤ ζ" }, CD, { t: " ≤ 0.4 at ρ < 0.5 for all SPRs" }]],
    [573, true, [{ t: "ζ" }, CD, { t: " ≈ 0.5 marginally achievable at ρ ≈ 0.6 in" }]],
    [665, false, [{ t: "SPR-45, assuming Z" }, { t: "eff", sub: true }, { t: "=1.8. Lower ζ" }, CD, { t: " in the latest" }]],
    [752, false, [{ t: "v3 iteration due to higher Z" }, { t: "eff", sub: true }, { t: "=2.5" }]],
    [861, true, [{ t: "OM injection is always preferred up to ρ < 0.7" }]],
    [968, true, [{ t: "Far off-axis (ρ > 0.8) XM shows large efficiency" }]],
    [1058, false, [{ t: "(ζ" }, CD, { t: " > 0.8 in SPR-14) but launch condition is not" }]],
    [1148, false, [{ t: "robust (CD via trapped electrons at down-shifted" }]],
    [1237, false, [{ t: "first harmonic close to cut-off condition)" }]],
    [1344, true, [{ t: "n=2 resonance preferred only at ρ < 0.3÷0.5 in" }]],
    [1434, false, [{ t: "high n" }, { t: "e", sub: true }, { t: " concepts (SPR-39, SPR-45)" }]],
    [1541, true, [{ t: "Optimal LP elevation |z" }, { t: "LP", sub: true }, { t: "| increases with incr. ρ" }]],
  ];
  bulletLines.forEach(([y, bullet, parts]) => {
    if (bullet) gfx.push(label(1373, y - 5, "•", { family: TEXT_FONT, size: 54, color: SLATE, align: "center" }));
    gfx.push(...runs(1458, y, parts, { size: BODY_SIZE, color: SLATE, family: TEXT_FONT, subDrop: 0.26, subScale: 0.68 }));
  });

  return {
    animation: false,
    backgroundColor: "#ffffff",
    grid: grids, xAxis: xAxes, yAxis: yAxes, series,
    graphic: { elements: gfx },
  };
}

export default function App() {
  const ref = useRef<HTMLDivElement>(null);
  useEffect(() => {
    const chart = echarts.init(ref.current!, undefined, { renderer: "svg", width: 3052, height: 2420 });
    chart.setOption(buildOption() as any);
    return () => chart.dispose();
  }, []);
  return <div ref={ref} style={{ position: "fixed", left: 0, top: 0, width: 3052, height: 2420, background: "#fff" }} />;
}
